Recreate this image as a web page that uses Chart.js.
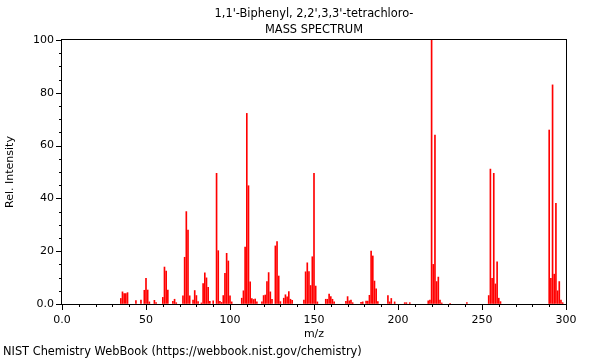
<!DOCTYPE html>
<html><head><meta charset="utf-8">
<script src="https://cdn.jsdelivr.net/npm/chart.js@4/dist/chart.umd.min.js"></script>
<style>html,body{margin:0;padding:0;background:#fff}#wrap{position:relative;width:600px;height:360px}</style>
</head><body><div id="wrap"><canvas id="c" width="600" height="360"></canvas></div>
<script>
const titleLines = ["1,1'-Biphenyl, 2,2',3,3'-tetrachloro-", "MASS SPECTRUM"];
const footerText = "NIST Chemistry WebBook (https://webbook.nist.gov/chemistry)";
const xAxisTitle = "m/z";
const yAxisTitle = "Rel. Intensity";
const xTickValues = [0, 50, 100, 150, 200, 250, 300];
const yTickValues = [0, 20, 40, 60, 80, 100];
const mz = [35,36,37,38,39,44,47,49,50,51,52,55,56,60,61,62,63,66,67,68,72,73,74,75,76,78,79,80,81,83,84,85,86,87,88,90,92,93,94,95,96,97,98,99,100,101,107,108,109,110,111,112,113,114,115,116,119,120,121,122,123,124,125,127,128,129,130,132,133,134,135,136,137,144,145,146,147,148,149,150,151,152,157,158,159,160,161,162,169,170,171,172,173,178,179,181,182,183,184,185,186,187,188,194,195,196,198,204,205,207,218,219,220,221,222,223,224,225,226,231,241,254,255,256,257,258,259,260,261,290,291,292,293,294,295,296,297,298];
const intensity = [2.1,4.6,3.9,3.9,4.3,1.3,1.5,5.2,9.7,5.3,0.8,1.4,0.5,2.5,14.0,12.5,5.3,1.0,1.8,0.5,3.1,17.7,35.0,28.0,3.1,1.5,5.1,3.2,0.9,0.4,7.7,11.8,9.9,6.3,1.0,1.2,49.5,20.2,1.0,0.6,3.2,11.6,19.2,16.3,3.1,0.8,2.2,5.0,21.6,72.2,44.8,8.4,2.1,1.7,1.9,0.8,0.8,3.2,3.4,8.5,11.9,4.6,1.8,22.0,23.6,10.6,0.9,2.2,3.5,2.7,4.7,1.8,1.4,1.5,12.2,15.6,12.3,7.0,17.9,49.5,6.8,0.8,1.8,1.8,3.8,2.8,1.8,0.8,1.0,2.8,1.2,1.5,0.5,0.6,0.8,1.1,1.1,3.3,20.0,18.2,8.7,5.7,0.9,3.2,0.8,2.1,0.8,0.5,0.5,0.5,1.2,1.5,100,15.0,64.0,8.5,10.2,1.5,0.4,0.3,0.5,3.2,51.1,9.7,49.5,7.6,16.0,2.2,0.9,65.9,9.7,83.0,11.3,38.1,5.0,8.5,1.5,0.5];

const FONT = 'DejaVu Sans';

const decor = {
  id: 'decor',
  afterDraw(chart) {
    const {ctx, chartArea: a, scales: {x, y}} = chart;
    ctx.save();
    ctx.strokeStyle = '#000';
    ctx.lineWidth = 1;
    ctx.beginPath();
    for (let v = 0; v <= 300; v += 10) {
      const px = Math.round(x.getPixelForValue(v)) + 0.5;
      const len = v % 50 === 0 ? 6 : 3;
      ctx.moveTo(px, a.bottom); ctx.lineTo(px, a.bottom + len);
    }
    for (let v = 0; v <= 100; v += 5) {
      const py = Math.round(y.getPixelForValue(v)) + 0.5;
      const len = v % 20 === 0 ? 6 : 3;
      ctx.moveTo(a.left, py); ctx.lineTo(a.left - len, py);
    }
    ctx.stroke();
    ctx.strokeRect(Math.round(a.left) - 0.5, Math.round(a.top) - 0.5, Math.round(a.right - a.left) + 1, Math.round(a.bottom - a.top) + 1);
    ctx.fillStyle = '#000';
    ctx.font = '11.4px "' + FONT + '"';
    ctx.textAlign = 'center';
    ctx.textBaseline = 'middle';
    const cx = (a.left + a.right) / 2;
    ctx.fillText(titleLines[0], cx, 14);
    ctx.fillText(titleLines[1], cx, 30);
    ctx.textAlign = 'left';
    ctx.fillText(footerText, 3, 352);
    ctx.restore();
  }
};

new Chart(document.getElementById('c'), {
  type: 'bar',
  data: {
    datasets: [{
      data: mz.map((m, i) => ({x: m, y: intensity[i]})),
      backgroundColor: 'rgb(255,0,0)',
      borderWidth: 0,
      barThickness: 1,
      grouped: false
    }]
  },
  options: {
    responsive: false,
    animation: false,
    events: [],
    layout: {padding: {top: 40, right: 34, bottom: 16, left: 0}},
    plugins: {legend: {display: false}, tooltip: {enabled: false}, title: {display: false}},
    scales: {
      x: {
        type: 'linear', min: 0, max: 300, offset: false,
        afterBuildTicks: s => { s.ticks = xTickValues.map(v => ({value: v})); },
        afterFit: s => { s.height = 40; },
        ticks: {autoSkip: false, maxRotation: 0, color: '#000', padding: 4,
          font: {family: FONT, size: 11},
          callback: v => v === 0 ? '0.0' : String(v)},
        grid: {drawOnChartArea: false, drawTicks: true, tickLength: 6, tickColor: 'rgba(0,0,0,0)', offset: false},
        border: {display: false},
        title: {display: true, text: xAxisTitle, color: '#000', font: {family: FONT, size: 11}, padding: {top: 0, bottom: 3}}
      },
      y: {
        min: 0, max: 100,
        afterBuildTicks: s => { s.ticks = yTickValues.map(v => ({value: v})); },
        afterFit: s => { s.width = 62; },
        ticks: {color: '#000', padding: 2, font: {family: FONT, size: 11},
          callback: v => v === 0 ? '0.0' : String(v)},
        grid: {drawOnChartArea: false, drawTicks: true, tickLength: 6, tickColor: 'rgba(0,0,0,0)'},
        border: {display: false},
        title: {display: true, text: yAxisTitle, color: '#000', font: {family: FONT, size: 11}, padding: {top: 4, bottom: 0}}
      }
    }
  },
  plugins: [decor]
});
</script>
</body></html>
